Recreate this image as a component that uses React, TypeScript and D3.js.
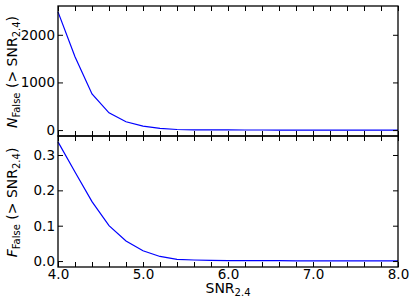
import React, { useEffect, useRef } from 'react'
import * as d3 from 'd3'

// SNR thresholds (x) and the two cumulative false-detection curves
const snr = [4.0, 4.2, 4.4, 4.6, 4.8, 5.0, 5.2, 5.4, 5.6, 5.8, 6.0, 6.2, 6.4, 6.6, 6.8, 7.0, 7.2, 7.4, 7.6, 7.8, 8.0]
const nFalse = [2480, 1540, 758, 362, 175, 83, 35, 12, 6, 4, 3, 2, 2, 1, 1, 1, 1, 0, 0, 0, 0]
const fFalse = [
  0.337, 0.252, 0.168, 0.1, 0.057, 0.029, 0.013, 0.005, 0.003, 0.002, 0.0015, 0.0012, 0.001, 0.001, 0.0008, 0.0008,
  0.0006, 0.0006, 0.0005, 0.0005, 0.0005,
]

const xTickLabels = ['4.0', '5.0', '6.0', '7.0', '8.0']
const nTicks = [0, 1000, 2000]
const fTicks = [0.0, 0.1, 0.2, 0.3]

const W = 415
const H = 300
const FONT = 'DejaVu Sans'

const App: React.FC = () => {
  const svgRef = useRef<SVGSVGElement>(null)

  useEffect(() => {
    if (!svgRef.current) return
    const svg = d3.select(svgRef.current)
    svg.selectAll('*').remove()

    const left = 58
    const right = 398
    const x = d3.scaleLinear().domain([4, 8]).range([left, right])
    const minorTicks = x.ticks(20)

    const panels = [
      { top: 6, bottom: 136, domain: [-124, 2604], values: nFalse, ticks: nTicks, fmt: d3.format('d'), sym: 'N', labels: false },
      { top: 136, bottom: 267, domain: [-0.0168, 0.3537], values: fFalse, ticks: fTicks, fmt: d3.format('.1f'), sym: 'F', labels: true },
    ]

    panels.forEach((p) => {
      const y = d3.scaleLinear().domain(p.domain).range([p.bottom, p.top])
      const g = svg.append('g')

      // curve
      const line = d3
        .line<number>()
        .x((_, i) => x(snr[i]))
        .y((d) => y(d))
      g.append('path')
        .attr('d', line(p.values))
        .attr('fill', 'none')
        .attr('stroke', '#0000ff')
        .attr('stroke-width', 1.2)

      // inward x ticks, top and bottom edge
      g.append('g')
        .attr('transform', `translate(0,${p.bottom})`)
        .call(
          d3
            .axisBottom(x)
            .tickValues(minorTicks)
            .tickSizeInner(-5)
            .tickSizeOuter(0)
            .tickPadding(2)
            .tickFormat((d) => {
              if (!p.labels) return ''
              const s = d3.format('.1f')(d as number)
              return xTickLabels.includes(s) ? s : ''
            }),
        )
      g.append('g')
        .attr('transform', `translate(0,${p.top})`)
        .call(d3.axisTop(x).tickValues(minorTicks).tickSizeInner(-5).tickSizeOuter(0).tickFormat(() => ''))

      // inward y ticks, left and right edge
      g.append('g')
        .attr('transform', `translate(${left},0)`)
        .call(d3.axisLeft(y).tickValues(p.ticks).tickSizeInner(-5).tickSizeOuter(0).tickPadding(3).tickFormat((d) => p.fmt(d as number)))
      g.append('g')
        .attr('transform', `translate(${right},0)`)
        .call(d3.axisRight(y).tickValues(p.ticks).tickSizeInner(-5).tickSizeOuter(0).tickFormat(() => ''))

      // frame
      g.append('rect')
        .attr('x', left)
        .attr('y', p.top)
        .attr('width', right - left)
        .attr('height', p.bottom - p.top)
        .attr('fill', 'none')
        .attr('stroke', '#000')
        .attr('stroke-width', 1.3)

      // y label
      const t = g
        .append('text')
        .attr('transform', `translate(16.5,${(p.top + p.bottom) / 2 + 1}) rotate(-90)`)
        .attr('text-anchor', 'middle')
        .attr('font-family', FONT)
        .attr('font-size', 14)
      t.append('tspan').attr('font-style', 'italic').text(p.sym)
      t.append('tspan').attr('font-size', 10).attr('dy', 3).text('False')
      t.append('tspan').attr('dy', -3).text(' (> SNR')
      t.append('tspan').attr('font-size', 10).attr('dy', 3).text('2.4')
      t.append('tspan').attr('dy', -3).text(')')
    })

    svg.selectAll('.domain').remove()
    svg.selectAll('.tick line').attr('stroke', '#000').attr('stroke-width', 1)
    svg.selectAll('.tick text').attr('fill', '#000').attr('font-family', FONT).attr('font-size', 13.5)

    // x label
    const xl = svg
      .append('text')
      .attr('x', (left + right) / 2)
      .attr('y', 293)
      .attr('text-anchor', 'middle')
      .attr('font-family', FONT)
      .attr('font-size', 14)
    xl.append('tspan').text('SNR')
    xl.append('tspan').attr('font-size', 10).attr('dy', 3).text('2.4')
  }, [])

  return (
    <div style={{ position: 'absolute', left: 0, top: 0, width: W, height: H, background: '#fff' }}>
      <svg ref={svgRef} width={W} height={H}></svg>
    </div>
  )
}

export default App
